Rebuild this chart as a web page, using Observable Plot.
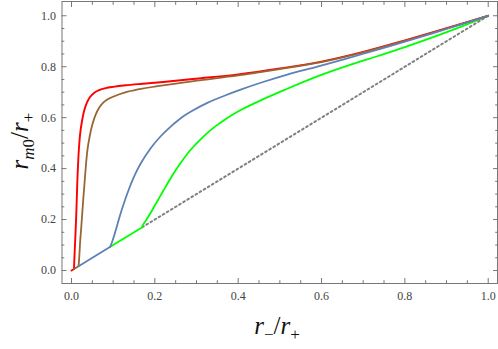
<!DOCTYPE html>
<html><head><meta charset="utf-8">
<script src="https://cdn.jsdelivr.net/npm/d3@7"></script>
<script src="https://cdn.jsdelivr.net/npm/@observablehq/plot@0.6"></script>
<style>body{margin:0;background:#fff}</style>
</head><body><div id="chart"></div>
<script>
// Series; each curve rises off the diagonal r_m0 = r_- at a kink
const redDiagX = [0, 0.006];
const redX = [0.006, 0.007, 0.011, 0.014, 0.0175, 0.021, 0.025, 0.030, 0.036, 0.044, 0.054, 0.066, 0.082, 0.10, 0.13, 0.17, 0.22, 0.30, 0.40, 0.50, 0.60, 0.70, 0.80, 0.90, 1.0];
const redY = [0.006, 0.05, 0.20, 0.35, 0.47, 0.54, 0.585, 0.625, 0.655, 0.68, 0.697, 0.708, 0.716, 0.721, 0.727, 0.733, 0.74, 0.753, 0.77, 0.793, 0.82, 0.858, 0.903, 0.951, 1.0];

const brownDiagX = [0.006, 0.017];
const brownX = [0.017, 0.0185, 0.021, 0.023, 0.028, 0.033, 0.038, 0.044, 0.050, 0.058, 0.066, 0.075, 0.085, 0.098, 0.115, 0.135, 0.17, 0.22, 0.30, 0.40, 0.50, 0.60, 0.70, 0.80, 0.90, 1.0];
const brownY = [0.017, 0.05, 0.12, 0.16, 0.275, 0.38, 0.47, 0.53, 0.573, 0.612, 0.638, 0.657, 0.67, 0.681, 0.692, 0.702, 0.714, 0.727, 0.745, 0.766, 0.791, 0.818, 0.856, 0.901, 0.95, 1.0];

const blueDiagX = [0.017, 0.093];
const blueX = [0.093, 0.097, 0.103, 0.110, 0.118, 0.128, 0.138, 0.152, 0.166, 0.19, 0.214, 0.24, 0.262, 0.29, 0.326, 0.37, 0.406, 0.454, 0.52, 0.59, 0.66, 0.737, 0.80, 0.90, 1.0];
const blueY = [0.094, 0.110, 0.140, 0.180, 0.225, 0.275, 0.320, 0.375, 0.420, 0.48, 0.527, 0.568, 0.598, 0.627, 0.658, 0.688, 0.710, 0.737, 0.770, 0.80, 0.832, 0.868, 0.898, 0.948, 1.0];

const greenDiagX = [0.093, 0.17];
const greenX = [0.17, 0.185, 0.20, 0.22, 0.24, 0.26, 0.286, 0.314, 0.342, 0.374, 0.406, 0.454, 0.51, 0.59, 0.67, 0.737, 0.80, 0.878, 0.94, 1.0];
const greenY = [0.176, 0.213, 0.255, 0.312, 0.368, 0.418, 0.474, 0.522, 0.562, 0.599, 0.630, 0.668, 0.708, 0.762, 0.808, 0.843, 0.877, 0.922, 0.96, 1.0];

const grayDiagX = [0.17, 1.0];

const majorTicks = [0, 0.2, 0.4, 0.6, 0.8, 1.0];
const minorTicks = [0.05, 0.1, 0.15, 0.25, 0.3, 0.35, 0.45, 0.5, 0.55, 0.65, 0.7, 0.75, 0.85, 0.9, 0.95];

const rows = (xs, ys) => xs.map((x, i) => ({x, y: ys[i]}));
const diag = (xs) => xs.map((x) => ({x, y: x}));

const frameColor = "#777";
const fmt = d3.format(".1f");

const plot = Plot.plot({
  width: 498, height: 349,
  marginLeft: 61.5, marginRight: 1, marginTop: 1, marginBottom: 66,
  x: {domain: [-0.0228, 1.0223]},
  y: {domain: [-0.051, 1.056]},
  style: {fontFamily: "'Liberation Serif', serif", fontSize: "12px", color: "#444", background: "#fff"},
  marks: [
    Plot.line(diag(grayDiagX), {x: "x", y: "y", stroke: "#808080", strokeWidth: 2, strokeDasharray: "1.8,3"}),
    Plot.line(diag(greenDiagX), {x: "x", y: "y", stroke: "#00ff00", strokeWidth: 1.8}),
    Plot.line(rows(greenX, greenY), {x: "x", y: "y", stroke: "#00ff00", strokeWidth: 1.8, curve: "catmull-rom"}),
    Plot.line(diag(redDiagX), {x: "x", y: "y", stroke: "#ff0000", strokeWidth: 1.9}),
    Plot.line(rows(redX, redY), {x: "x", y: "y", stroke: "#ff0000", strokeWidth: 1.9, curve: "catmull-rom"}),
    Plot.line(diag(brownDiagX), {x: "x", y: "y", stroke: "#996633", strokeWidth: 1.8}),
    Plot.line(rows(brownX, brownY), {x: "x", y: "y", stroke: "#996633", strokeWidth: 1.8, curve: "catmull-rom"}),
    Plot.line(diag(blueDiagX), {x: "x", y: "y", stroke: "#5e81b5", strokeWidth: 1.8}),
    Plot.line(rows(blueX, blueY), {x: "x", y: "y", stroke: "#5e81b5", strokeWidth: 1.8, curve: "catmull-rom"}),
    Plot.frame({stroke: frameColor}),
    // bottom / left labels
    Plot.axisX(majorTicks, {anchor: "bottom", tickSize: 0, tickPadding: 8, tickFormat: fmt, label: null}),
    Plot.axisY(majorTicks, {anchor: "left", tickSize: 0, tickPadding: 6, tickFormat: fmt, label: null}),
    // inward ticks on all four sides
    Plot.axisX(majorTicks, {anchor: "bottom", tickSize: -5, fill: "none", stroke: frameColor, label: null}),
    Plot.axisX(minorTicks, {anchor: "bottom", tickSize: -2.8, fill: "none", stroke: frameColor, label: null}),
    Plot.axisX(majorTicks, {anchor: "top", tickSize: -5, fill: "none", stroke: frameColor, label: null}),
    Plot.axisX(minorTicks, {anchor: "top", tickSize: -2.8, fill: "none", stroke: frameColor, label: null}),
    Plot.axisY(majorTicks, {anchor: "left", tickSize: -5, fill: "none", stroke: frameColor, label: null}),
    Plot.axisY(minorTicks, {anchor: "left", tickSize: -2.8, fill: "none", stroke: frameColor, label: null}),
    Plot.axisY(majorTicks, {anchor: "right", tickSize: -5, fill: "none", stroke: frameColor, label: null}),
    Plot.axisY(minorTicks, {anchor: "right", tickSize: -2.8, fill: "none", stroke: frameColor, label: null})
  ]
});
document.getElementById("chart").appendChild(plot);

// Axis titles with subscripts as real SVG text
const svg = d3.select(plot);
function addTitle(x, y, rotate, parts) {
  const t = svg.append("text")
    .attr("transform", `translate(${x},${y}) rotate(${rotate})`)
    .attr("text-anchor", "middle")
    .attr("font-family", "'Liberation Serif', serif")
    .attr("font-size", 25)
    .attr("fill", "#111");
  let shift = 0;
  for (const p of parts) {
    const target = p.sub ? 6 : 0;
    t.append("tspan").text(p.t)
      .attr("dy", target - shift)
      .attr("font-size", p.sub ? 17 : 25)
      .attr("font-style", p.italic ? "italic" : "normal");
    shift = target;
  }
}
addTitle(277, 334, 0, [
  {t: "r", italic: true}, {t: "\u2212", sub: true}, {t: "/", italic: false}, {t: "r", italic: true}, {t: "+", sub: true}
]);
addTitle(28, 141, -90, [
  {t: "r", italic: true}, {t: "m", sub: true, italic: true}, {t: "0", sub: true}, {t: "/", italic: false}, {t: "r", italic: true}, {t: "+", sub: true}
]);
</script>
</body></html>
